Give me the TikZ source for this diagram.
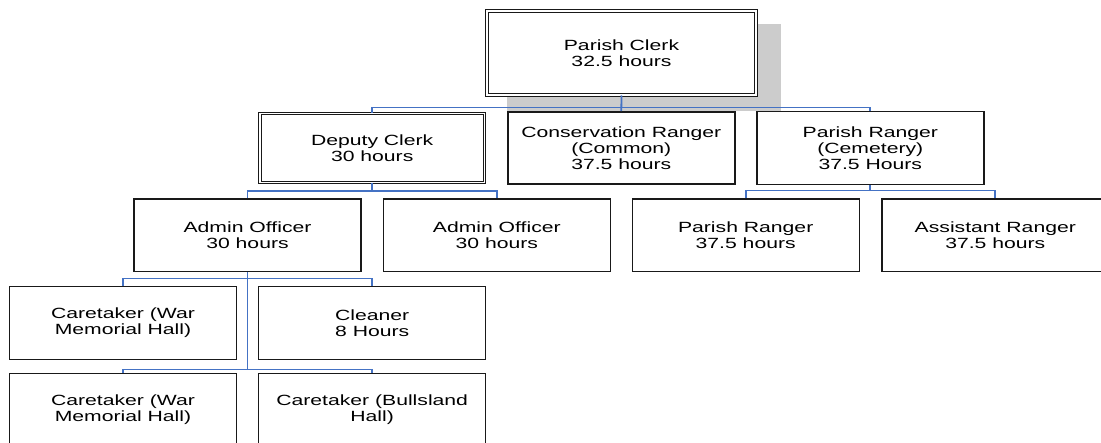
\documentclass[tikz,border=0pt]{standalone}
\usepackage{fontspec}
\setmainfont{Liberation Sans}[FakeStretch=1.43]
\definecolor{orgblue}{RGB}{68,114,196}
\definecolor{shadowgray}{RGB}{204,204,204}
\begin{document}
\begin{tikzpicture}[x=1pt,y=1pt,
  box/.style={draw=black!90, line width=1.4pt, fill=white, inner sep=0pt, align=center,
    font=\fontsize{14.8}{16.2}\selectfont, minimum width=227pt, minimum height=72.5pt},
  dbox/.style={box, double=white, line width=1pt, double distance=1.8pt},
  lnk/.style={draw=orgblue, line width=1.8pt}]
\useasboundingbox (0,0) rectangle (1101,-443);
% shadow behind the top box
\fill[fill=shadowgray] (507,-24) rectangle (781,-111);
% nodes
\node[dbox, minimum width=269pt, minimum height=84pt] (pc) at (621.5,-53) {Parish Clerk\\32.5 hours};
\node[dbox, minimum width=224.5pt, minimum height=69pt] (dc) at (372.2,-148) {Deputy Clerk\\30 hours};
\node[box, minimum height=72.3pt] (cr) at (621.3,-148) {Conservation Ranger\\(Common)\\37.5 hours};
\node[box] (prc) at (870.3,-148) {Parish Ranger\\(Cemetery)\\37.5 Hours};
\node[box] (ao1) at (247.5,-235.3) {Admin Officer\\30 hours};
\node[box] (ao2) at (496.8,-235.3) {Admin Officer\\30 hours};
\node[box] (pr) at (745.7,-235.3) {Parish Ranger\\37.5 hours};
\node[box] (ar) at (995.3,-235.3) {Assistant Ranger\\37.5 hours};
\node[box] (ct1) at (123,-323) {Caretaker (War\\Memorial Hall)};
\node[box] (cl) at (372.2,-323) {Cleaner\\8 Hours};
\node[box] (ct2) at (123,-410) {Caretaker (War\\Memorial Hall)};
\node[box] (ct3) at (372.2,-410) {Caretaker (Bullsland\\Hall)};
% bus coordinates
\coordinate (b1) at (621.5,-107.5);
\coordinate (b2) at (372.2,-191);
\coordinate (b3) at (870.3,-190.5);
\coordinate (b4) at (247.5,-278.5);
\coordinate (b5) at (247.5,-369.5);
% connectors
\draw[lnk] (pc.south) -- (cr.north);
\draw[lnk] (dc.north) |- (b1) -| (prc.north);
\draw[lnk] (dc.south) -- (b2);
\draw[lnk] (ao1.north) |- (b2) -| (ao2.north);
\draw[lnk] (prc.south) -- (b3);
\draw[lnk] (pr.north) |- (b3) -| (ar.north);
\draw[lnk] (ao1.south) -- (b5);
\draw[lnk] (ct1.north) |- (b4) -| (cl.north);
\draw[lnk] (ct2.north) |- (b5) -| (ct3.north);
\end{tikzpicture}
\end{document}
